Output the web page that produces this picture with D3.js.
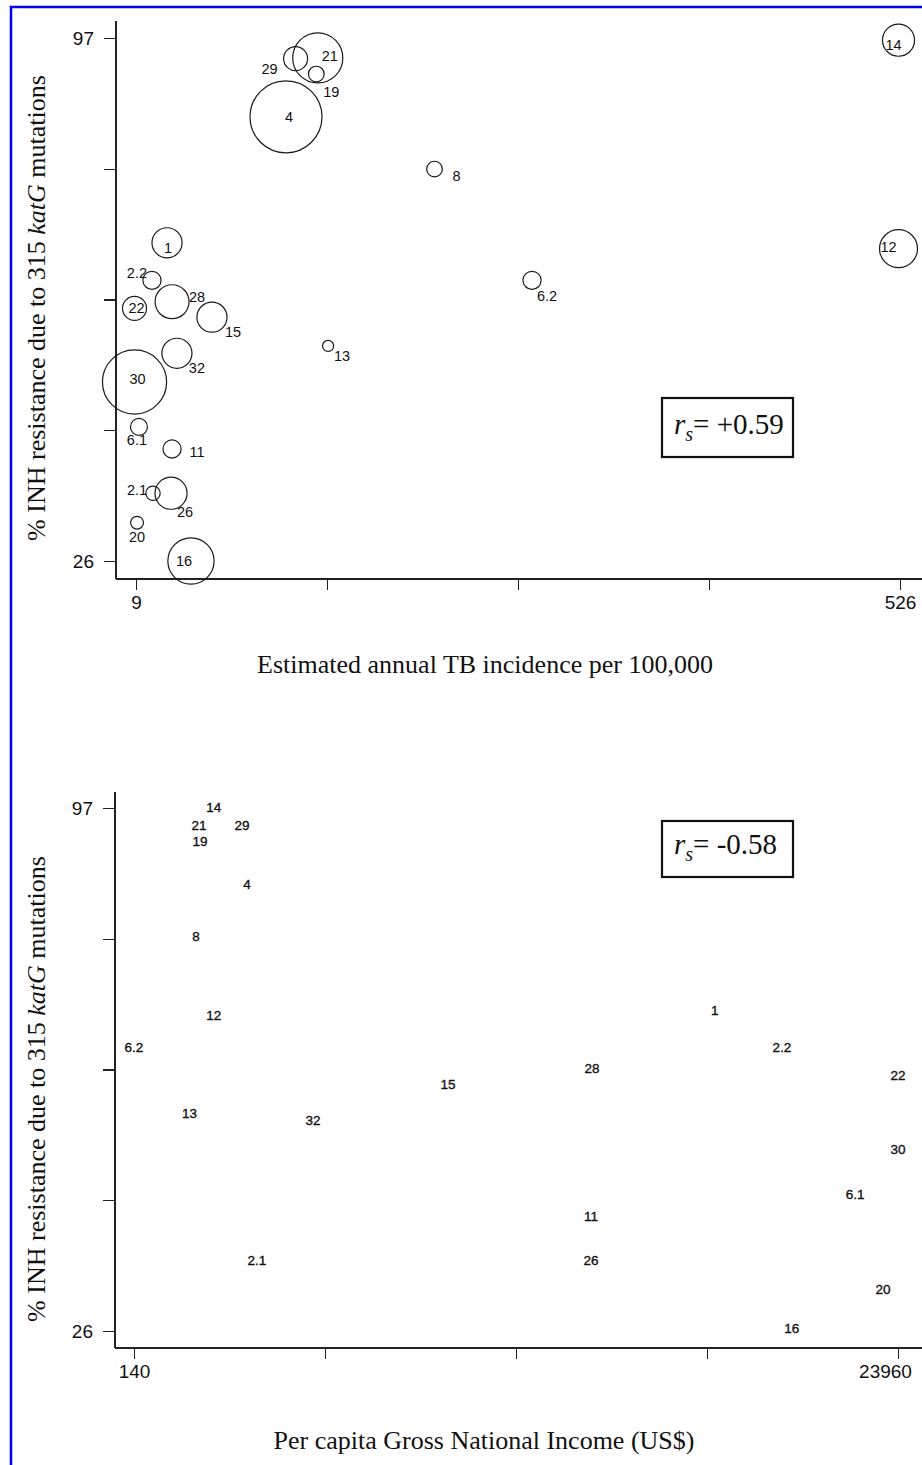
<!DOCTYPE html>
<html>
<head>
    <meta charset="utf-8">
    <title>INH resistance due to katG 315 mutations</title>
    <style>
        body {
            margin: 0;
            background-color: #fff;
        }

        svg {
            display: block;
        }

        .axis path {
            display: none;
        }

        .axis line, .axis-line {
            stroke: #222;
            stroke-width: 1.3;
            shape-rendering: crispEdges;
        }

        .axis text {
            font-family: "Liberation Sans", Arial, sans-serif;
            font-size: 19px;
            fill: #111;
        }

        .bubble {
            fill: none;
            stroke: #1a1a1a;
            stroke-width: 1.2;
        }

        .mlabel {
            font-family: "Liberation Sans", Arial, sans-serif;
            font-size: 14.5px;
            fill: #111;
        }

        .mlabel.plain {
            font-size: 13.5px;
            stroke: #111;
            stroke-width: 0.35;
        }

        .title {
            font-family: "Liberation Serif", "Times New Roman", serif;
            font-size: 26px;
            fill: #111;
        }

        .rs-box {
            fill: none;
            stroke: #111;
            stroke-width: 2.2;
        }

        .rs {
            font-family: "Liberation Serif", "Times New Roman", serif;
            font-size: 29px;
            fill: #111;
        }

        .frame {
            fill: none;
            stroke: #0000ee;
            stroke-width: 2.5;
        }
    </style>
    <script src="https://d3js.org/d3.v7.min.js"></script>
</head>

<body>

<script type="text/javascript">
    // country / study labels
    var labels = ["1", "2.1", "2.2", "4", "6.1", "6.2", "8", "11", "12", "13", "14",
        "15", "16", "19", "20", "21", "22", "26", "28", "29", "30", "32"];

    // % INH resistance due to katG 315 mutations
    var inhPct = [69.2, 35.2, 64.1, 86.3, 44.2, 64.1, 79.2, 41.2, 68.4, 55.2, 96.7,
        59.1, 26.0, 92.1, 31.2, 94.3, 60.3, 35.2, 61.2, 94.2, 50.3, 54.2];

    // estimated annual TB incidence per 100,000
    var tbIncidence = [30, 20.5, 19.8, 110.5, 11, 277, 211, 33.4, 525, 139, 525,
        60.4, 46.2, 131, 9.7, 132, 8, 32.7, 33.4, 117, 8, 36.7];

    // per capita GNI (US$)
    var gniUsd = [18250, 3975, 20340, 3660, 22620, 140, 2070, 14390, 2630, 1870, 2630,
        9930, 20650, 2200, 23490, 2170, 23960, 14390, 14420, 3510, 23960, 5720];

    // number of isolates (bubble weight)
    var isolates = [22, 5, 8, 126, 7, 8, 6, 8, 35, 3, 25,
        22, 52, 6, 4, 61, 14, 25, 28, 14, 100, 22];

    var yTicks = [26, 43.75, 61.5, 79.25, 97];
    var tbTicks = [9, 138.25, 267.5, 396.75, 526];
    var gniTicks = [140, 6095, 12050, 18005, 23960];

    var yTitle = ["% INH resistance due to 315 ", "katG", " mutations"];
    var tbTitle = "Estimated annual TB incidence per 100,000";
    var gniTitle = "Per capita Gross National Income (US$)";
    var rsTop = "= +0.59";
    var rsBottom = "= -0.58";

    // where the marker label sits relative to the bubble centre (top panel)
    var labelOffset = {
        "1": [1, 5], "2.1": [-16, -3], "2.2": [-15, -7], "4": [3, 0], "6.1": [-2, 13],
        "6.2": [15, 16], "8": [22, 7], "11": [25, 3], "12": [-10, -2], "13": [14, 10],
        "14": [-5, 5], "15": [21, 15], "16": [-7, 0], "19": [15, 18], "20": [0, 14],
        "21": [12, -2], "22": [2, 0], "26": [14, 19], "28": [25, -5], "29": [-26, 10],
        "30": [3, -3], "32": [20, 15]
    };

    var data = labels.map(function (l, i) {
        return {label: l, inh: inhPct[i], tb: tbIncidence[i], gni: gniUsd[i], n: isolates[i]};
    });

    var svg = d3.select("body").append("svg")
            .attr("width", 922)
            .attr("height", 1465);

    svg.append("rect")
            .attr("class", "frame")
            .attr("x", 11)
            .attr("y", 7)
            .attr("width", 1000)
            .attr("height", 1600);

    var r = d3.scaleSqrt().domain([0, 126]).range([0, 36]);

    function panel(opts) {
        var g = svg.append("g");
        var x = d3.scaleLinear().domain(opts.xDomain).range(opts.xRange);
        var y = d3.scaleLinear().domain([26, 97]).range(opts.yRange);

        // axis lines
        g.append("line").attr("class", "axis-line")
                .attr("x1", opts.left).attr("x2", opts.left)
                .attr("y1", opts.top).attr("y2", opts.bottom);
        g.append("line").attr("class", "axis-line")
                .attr("x1", opts.left).attr("x2", 922)
                .attr("y1", opts.bottom).attr("y2", opts.bottom);

        var yAxis = d3.axisLeft(y)
                .tickValues(yTicks)
                .tickSize(12)
                .tickPadding(10)
                .tickFormat(function (d) {
                    return (d === 26 || d === 97) ? d : "";
                });

        g.append("g")
                .attr("class", "axis")
                .attr("transform", "translate(" + opts.left + ",0)")
                .call(yAxis);

        var last = opts.xTicks[opts.xTicks.length - 1];
        var xAxis = d3.axisBottom(x)
                .tickValues(opts.xTicks)
                .tickSize(11)
                .tickPadding(6)
                .tickFormat(function (d) {
                    return (d === opts.xTicks[0] || d === last) ? d : "";
                });

        var xg = g.append("g")
                .attr("class", "axis")
                .attr("transform", "translate(0," + opts.bottom + ")")
                .call(xAxis);
        xg.selectAll("text")
                .filter(function (d) { return d === last; })
                .attr("dx", opts.lastDx);

        // axis titles
        var yt = g.append("text")
                .attr("class", "title")
                .attr("text-anchor", "middle")
                .attr("transform", "translate(45," + opts.yTitleY + ") rotate(-90)");
        yt.append("tspan").text(yTitle[0]);
        yt.append("tspan").attr("font-style", "italic").text(yTitle[1]);
        yt.append("tspan").text(yTitle[2]);

        g.append("text")
                .attr("class", "title")
                .attr("text-anchor", "middle")
                .attr("x", opts.xTitleX)
                .attr("y", opts.xTitleY)
                .text(opts.xTitle);

        // correlation box
        g.append("rect")
                .attr("class", "rs-box")
                .attr("x", 662)
                .attr("y", opts.boxY)
                .attr("width", 131)
                .attr("height", opts.boxH);

        var rt = g.append("text")
                .attr("class", "rs")
                .attr("x", 674)
                .attr("y", opts.boxY + opts.boxH - 23);
        rt.append("tspan").attr("font-style", "italic").text("r");
        rt.append("tspan").attr("font-style", "italic").attr("font-size", "20px")
                .attr("dy", 7).text("s");
        rt.append("tspan").attr("dy", -7).text(opts.rs);

        return {g: g, x: x, y: y};
    }

    // top panel: TB incidence, bubbles weighted by isolates
    var tbPanel = panel({
        xDomain: [9, 526], xRange: [136, 900], yRange: [561, 38],
        left: 116, top: 21, bottom: 579,
        xTicks: tbTicks, lastDx: 0,
        yTitleY: 308, xTitle: tbTitle, xTitleX: 485, xTitleY: 673,
        boxY: 398, boxH: 59, rs: rsTop
    });

    tbPanel.g.selectAll("circle.bubble")
            .data(data)
            .enter()
            .append("circle")
            .attr("class", "bubble")
            .attr("cx", function (d) { return tbPanel.x(d.tb); })
            .attr("cy", function (d) { return tbPanel.y(d.inh); })
            .attr("r", function (d) { return r(d.n); });

    tbPanel.g.selectAll("text.mlabel")
            .data(data)
            .enter()
            .append("text")
            .attr("class", "mlabel")
            .attr("text-anchor", "middle")
            .attr("dy", "0.35em")
            .attr("x", function (d) { return tbPanel.x(d.tb) + labelOffset[d.label][0]; })
            .attr("y", function (d) { return tbPanel.y(d.inh) + labelOffset[d.label][1]; })
            .text(function (d) { return d.label; });

    // bottom panel: GNI, labels only
    var gniPanel = panel({
        xDomain: [140, 23960], xRange: [134, 898], yRange: [1331, 808],
        left: 115, top: 792, bottom: 1348,
        xTicks: gniTicks, lastDx: -13,
        yTitleY: 1089, xTitle: gniTitle, xTitleX: 484, xTitleY: 1449,
        boxY: 821, boxH: 56, rs: rsBottom
    });

    gniPanel.g.selectAll("text.mlabel")
            .data(data)
            .enter()
            .append("text")
            .attr("class", "mlabel plain")
            .attr("text-anchor", "middle")
            .attr("dy", "0.35em")
            .attr("x", function (d) { return gniPanel.x(d.gni); })
            .attr("y", function (d) { return gniPanel.y(d.inh) - 3; })
            .text(function (d) { return d.label; });
</script>

</body>

</html>
